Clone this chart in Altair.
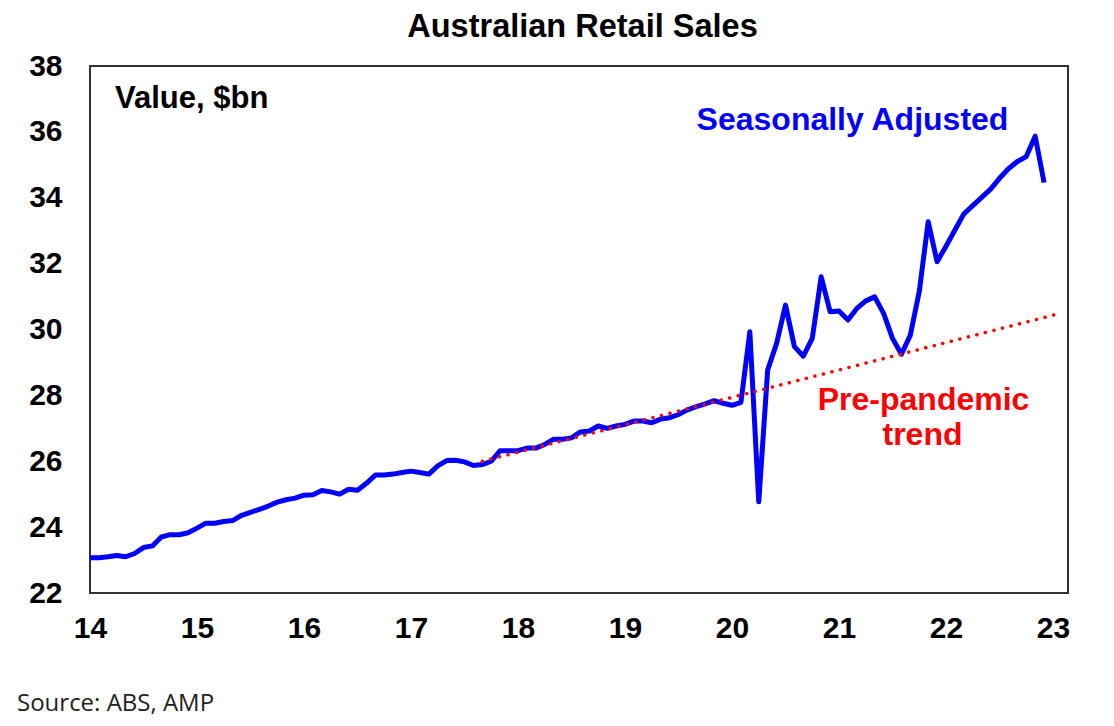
import altair as alt
import pandas as pd

# Monthly seasonally adjusted retail sales, $bn, Jan 2014 .. Dec 2022
sales = [
    23.07, 23.07, 23.10, 23.14, 23.10, 23.20, 23.38, 23.43, 23.70, 23.77, 23.77, 23.83,
    23.97, 24.12, 24.12, 24.17, 24.20, 24.36, 24.45, 24.54, 24.64, 24.76, 24.83, 24.88,
    24.97, 24.98, 25.11, 25.07, 25.00, 25.15, 25.12, 25.33, 25.58, 25.58, 25.61, 25.66,
    25.70, 25.66, 25.61, 25.86, 26.02, 26.03, 25.98, 25.87, 25.90, 26.00, 26.32, 26.32,
    26.32, 26.40, 26.40, 26.51, 26.67, 26.67, 26.71, 26.89, 26.92, 27.07, 27.00, 27.07,
    27.12, 27.22, 27.22, 27.17, 27.28, 27.32, 27.42, 27.56, 27.66, 27.74, 27.84, 27.76,
    27.70, 27.79, 29.93, 24.77, 28.77, 29.58, 30.74, 29.48, 29.19, 29.73, 31.60, 30.54,
    30.56, 30.29, 30.64, 30.87, 30.99, 30.49, 29.73, 29.25, 29.83, 31.15, 33.27, 32.06,
    32.53, 33.02, 33.51, 33.76, 34.01, 34.26, 34.59, 34.88, 35.10, 35.25, 35.87, 34.46,
]
month_year = [14 + m / 12 for m in range(len(sales))]

# Pre-pandemic trend endpoints (year, $bn)
trend_year = [17.667, 23.08]
trend_value = [26.0, 30.5]

x_ticks = list(range(14, 24))
y_ticks = list(range(22, 39, 2))

sa_df = pd.DataFrame({"year": month_year, "value": sales})
tr_df = pd.DataFrame({"year": trend_year, "value": trend_value})

FONT = "Liberation Sans"

xs = alt.Scale(domain=[14, 23.14], nice=False, zero=False)
ys = alt.Scale(domain=[22, 38], nice=False, zero=False)

x_axis = alt.Axis(values=x_ticks, format="d", ticks=False, domain=False, grid=False,
                  labelFont=FONT, labelFontWeight="bold", labelFontSize=30,
                  labelColor="black", labelPadding=20, labelFlush=False,
                  labelOverlap=False, title=None)
y_axis = alt.Axis(values=y_ticks, format="d", ticks=False, domain=False, grid=False,
                  labelFont=FONT, labelFontWeight="bold", labelFontSize=30,
                  labelColor="black", labelPadding=28, labelFlush=False,
                  labelOverlap=False, title=None)

sa_line = alt.Chart(sa_df).mark_line(color="#0000FF", strokeWidth=5, strokeJoin="round").encode(
    x=alt.X("year:Q", scale=xs, axis=x_axis),
    y=alt.Y("value:Q", scale=ys, axis=y_axis),
)

trend_line = alt.Chart(tr_df).mark_line(
    color="#FF0000", strokeWidth=3.5, strokeDash=[0.1, 8.7], strokeCap="round"
).encode(
    x=alt.X("year:Q", scale=xs),
    y=alt.Y("value:Q", scale=ys),
)

value_lbl = alt.Chart().mark_text(
    text="Value, $bn", font=FONT, fontWeight="bold", fontSize=31, color="black",
    align="left", baseline="alphabetic"
).encode(x=alt.datum(14.234), y=alt.datum(36.72))

sa_lbl = alt.Chart().mark_text(
    text="Seasonally Adjusted", font=FONT, fontWeight="bold", fontSize=32, color="#0000FF",
    align="center", baseline="alphabetic"
).encode(x=alt.datum(21.126), y=alt.datum(36.06))

pre_lbl = alt.Chart().mark_text(
    text="Pre-pandemic", font=FONT, fontWeight="bold", fontSize=32, color="#FF0000",
    align="center", baseline="alphabetic"
).encode(x=alt.datum(21.79), y=alt.datum(27.556))

trend_lbl = alt.Chart().mark_text(
    text="trend", font=FONT, fontWeight="bold", fontSize=32, color="#FF0000",
    align="center", baseline="alphabetic"
).encode(x=alt.datum(21.78), y=alt.datum(26.49))

title_lbl = alt.Chart().mark_text(
    text="Australian Retail Sales", font=FONT, fontWeight="bold", fontSize=32.5, color="black",
    align="center", baseline="alphabetic"
).encode(x=alt.value(492.5), y=alt.value(-29))

source_lbl = alt.Chart().mark_text(
    text="Source: ABS, AMP", font="Open Sans", fontSize=24, color="#222222",
    align="left", baseline="middle"
).encode(x=alt.value(-73), y=alt.value(638))

chart = alt.layer(
    sa_line, trend_line, value_lbl, sa_lbl, pre_lbl, trend_lbl, title_lbl, source_lbl
).properties(
    width=978, height=527,
    autosize=alt.AutoSizeParams(type="none"),
    padding={"left": 82, "top": 58, "right": 30, "bottom": 128},
    background="white",
).configure_view(stroke="#333333", strokeWidth=2)

chart.save("out.html", embed_options={"renderer": "svg", "actions": False})
